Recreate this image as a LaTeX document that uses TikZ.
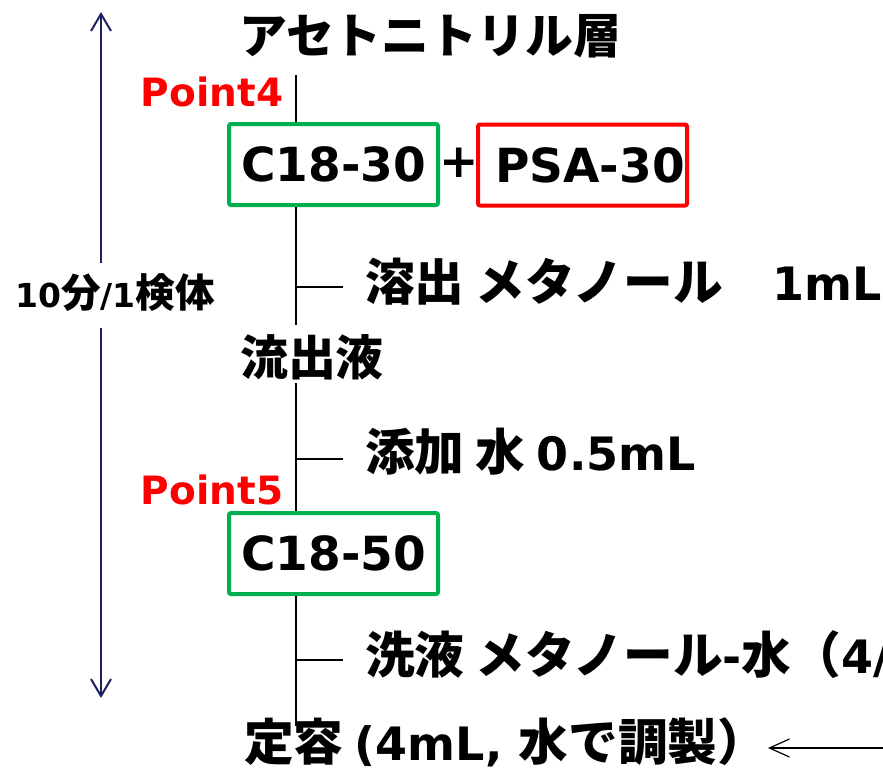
\documentclass[tikz,border=0pt]{standalone}
\usepackage{fontspec}
\setmainfont{DejaVu Sans}
\newfontfamily\jp{Noto Sans CJK JP}[Scale=1.08]
\newfontfamily\jpT{Noto Sans CJK JP}[Scale=1.04]
\newfontfamily\jpL{Noto Sans CJK JP}[Scale=1.2]
\usetikzlibrary{arrows.meta}
\definecolor{boxgreen}{RGB}{0,176,80}
\definecolor{navyline}{RGB}{31,31,100}
\begin{document}
\begin{tikzpicture}[x=1pt,y=-1pt,
  txt/.style={inner sep=0pt, font=\bfseries\fontsize{46}{48}\selectfont},
  small/.style={inner sep=0pt, font=\bfseries\fontsize{33}{35}\selectfont},
  pointlbl/.style={inner sep=0pt, text=red, font=\bfseries\fontsize{39}{41}\selectfont},
  boxlbl/.style={inner sep=0pt, line width=4pt, rounded corners=2pt, minimum width=209pt, minimum height=81pt, font=\bfseries\fontsize{47}{49}\selectfont},
  gbox/.style={boxlbl, draw=boxgreen},
  rbox/.style={boxlbl, draw=red},
  mainline/.style={draw=black, line width=1.3pt},
  navyarrow/.style={draw=navyline, line width=2pt, -{Straight Barb[length=17pt,width=20pt]}},
  backarrow/.style={draw=black, line width=1.2pt, -{Straight Barb[length=20pt,width=18pt]}}
]
\useasboundingbox (0,0) rectangle (883,769);
\clip (0,0) rectangle (883,769);

% title
\node[txt] (title) at (430,36) {\jpT アセトニトリル層};

% Point labels
\node[pointlbl] (p4) at (212,92) {Point4};
\node[pointlbl] (p5) at (212,490) {Point5};

% boxes
\node[gbox] (b1) at (333.5,164.5) {C18-30};
\node[txt, font=\bfseries\fontsize{47}{49}\selectfont] (plus) at (459,163) {+};
\node[rbox] (b2) at (582.5,165) {\hspace*{15pt}PSA-30};
\node[gbox] (b3) at (333.5,553.5) {C18-50};

% texts
\node[txt, anchor=west] (s1) at (365,282) {{\jp 溶出 メタノール　}1mL};
\node[txt] (flow) at (312,357) {\jpT 流出液};
\node[txt, anchor=west] (s2) at (365,452) {{\jp 添加 水 }0.5mL};
\node[txt, anchor=west] (s3) at (365,655) {{\jp 洗液 メタノール}-{\jp 水（}4/};
\node[txt, anchor=west] (fin) at (244,742) {{\jp 定容 }(4mL, {\jp 水で調製）}};

% main vertical line
\coordinate (top) at (296,75);
\coordinate (m1) at (296,325);
\coordinate (m2) at (296,383);
\coordinate (bot) at (296,726);
\draw[mainline] (top) -- (top |- b1.north);
\draw[mainline] (top |- b1.south) -- (m1);
\draw[mainline] (m2) -- (top |- b3.north);
\draw[mainline] (top |- b3.south) -- (bot);

% branches
\coordinate (br1) at (296,287);
\coordinate (br2) at (296,459);
\coordinate (br3) at (296,660);
\draw[mainline] (br1) -- ++(47,0);
\draw[mainline] (br2) -- ++(47,0);
\draw[mainline] (br3) -- ++(47,0);

% time arrow on the left
\node[small] (tm) at (115,293) {10{\jpL 分}/1{\jpL 検体}};
\coordinate (lu) at (101,263);
\coordinate (ltop) at (101,12);
\coordinate (ld) at (101,328);
\coordinate (lbot) at (101,698);
\draw[navyarrow] (lu) -- (ltop);
\draw[navyarrow] (ld) -- (lbot);

% arrow into the final step
\coordinate (rin) at (884,748);
\coordinate (rtip) at (768,748);
\draw[backarrow] (rin) -- (rtip);
\end{tikzpicture}
\end{document}
